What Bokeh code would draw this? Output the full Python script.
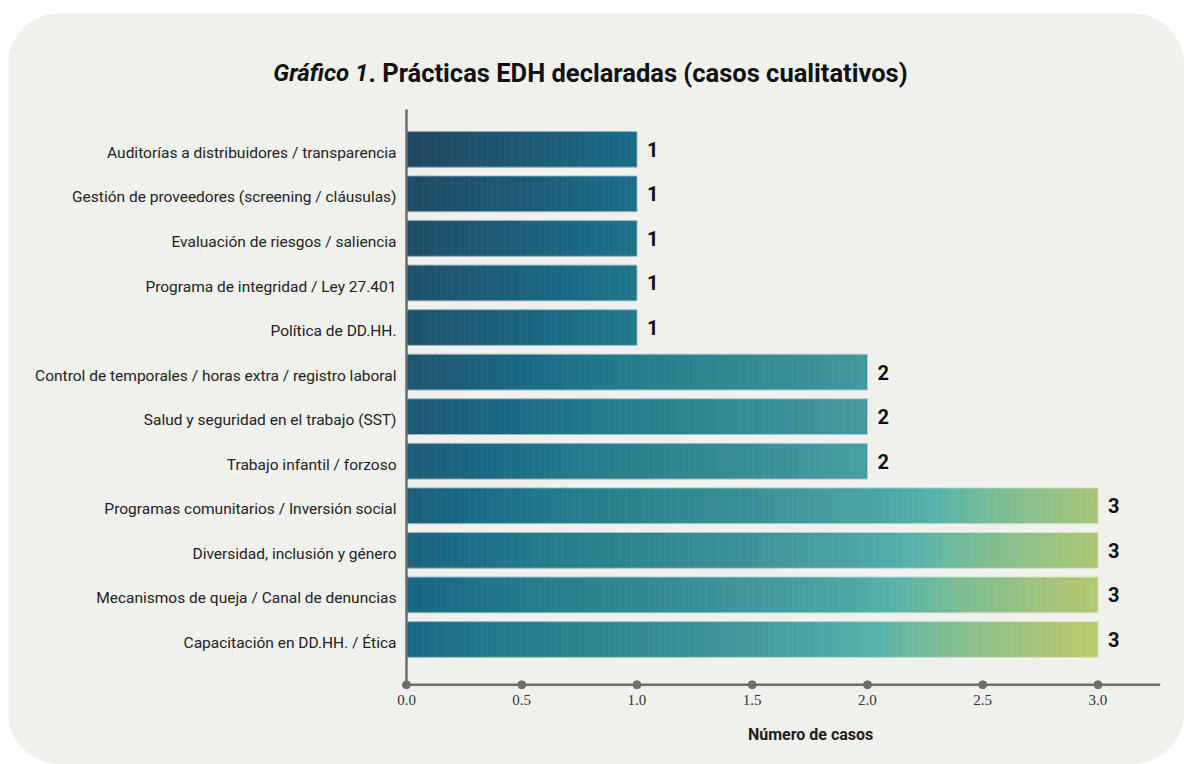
from bokeh.plotting import figure
from bokeh.models import Range1d
from bokeh.embed import file_html
from bokeh.resources import INLINE
from bokeh.core.properties import value

# ---------------- data ----------------
categories = [
    "Auditorías a distribuidores / transparencia",
    "Gestión de proveedores (screening / cláusulas)",
    "Evaluación de riesgos / saliencia",
    "Programa de integridad / Ley 27.401",
    "Política de DD.HH.",
    "Control de temporales / horas extra / registro laboral",
    "Salud y seguridad en el trabajo (SST)",
    "Trabajo infantil / forzoso",
    "Programas comunitarios / Inversión social",
    "Diversidad, inclusión y género",
    "Mecanismos de queja / Canal de denuncias",
    "Capacitación en DD.HH. / Ética",
]
casos = [1, 1, 1, 1, 1, 2, 2, 2, 3, 3, 3, 3]
x_ticks = [0.0, 0.5, 1.0, 1.5, 2.0, 2.5, 3.0]
x_tick_labels = ["0.0", "0.5", "1.0", "1.5", "2.0", "2.5", "3.0"]
title_italic = "Gráfico 1"
title_rest = ". Prácticas EDH declaradas (casos cualitativos)"
x_title = "Número de casos"

# ---------------- style ----------------
BG = "#f0f0ec"
AXIS = "#6e6e6e"
stops = [
    (0.00, "#1f4560"),
    (0.13, "#1e5872"),
    (0.25, "#1a6a86"),
    (0.34, "#237a8c"),
    (0.45, "#2e8690"),
    (0.55, "#3a9098"),
    (0.61, "#43999c"),
    (0.68, "#4aa3a3"),
    (0.75, "#56b2aa"),
    (0.82, "#7cbd94"),
    (0.92, "#a3c47a"),
    (1.00, "#bccc68"),
]


def hex2rgb(h):
    h = h.lstrip("#")
    return tuple(int(h[i:i + 2], 16) for i in (0, 2, 4))


def grad(t):
    t = max(0.0, min(1.0, t))
    for (t0, c0), (t1, c1) in zip(stops[:-1], stops[1:]):
        if t <= t1:
            f = (t - t0) / (t1 - t0) if t1 > t0 else 0
            a, b = hex2rgb(c0), hex2rgb(c1)
            r = [round(a[k] + (b[k] - a[k]) * f) for k in range(3)]
            return "#%02x%02x%02x" % tuple(r)
    return stops[-1][1]


n = len(categories)
rows = list(range(n))

W, H = 1176, 751
p = figure(
    width=W, height=H,
    x_range=Range1d(-1.7267, 3.3753),
    y_range=Range1d(13.806, -3.0476),
    output_backend="svg", toolbar_location=None,
    x_axis_location=None, y_axis_location=None,
    min_border=0,
)
p.styles = {"margin-left": "8px", "margin-top": "13px",
            "border-radius": "52px", "overflow": "hidden"}
p.background_fill_color = BG
p.border_fill_color = BG
p.outline_line_color = None
p.grid.visible = False

# gradient bars, built as thin slices of each bar
step = 0.025
L, R, T, B, C = [], [], [], [], []
for i, v in enumerate(casos):
    k = int(round(v / step))
    for j in range(k):
        x0 = j * step
        x1 = min(v, (j + 1) * step)
        xc = (x0 + x1) / 2
        t = 0.2497 * xc + 0.009 + 0.02125 * i
        L.append(x0); R.append(x1); T.append(i - 0.4); B.append(i + 0.4)
        C.append(grad(t))
p.quad(left=L, right=R, top=T, bottom=B, fill_color=C, line_color=C, line_width=0.6)
p.hbar(y=rows, left=0, right=casos, height=0.8, fill_alpha=0,
       line_color="white", line_alpha=0.45, line_width=1)

# value labels
p.text(x=casos, y=rows, text=[str(v) for v in casos], x_offset=10,
       text_baseline="middle", text_align="left",
       text_font=value("Roboto"), text_font_style="bold",
       text_font_size="20px", text_color="#111111")

# axis lines and tick dots
x_axis_y = n - 1 + 1.017
y_axis_top = -0.893
p.segment(x0=[0], y0=[y_axis_top], x1=[0], y1=[x_axis_y], line_color=AXIS, line_width=2.5)
p.segment(x0=[0], y0=[x_axis_y], x1=[3.27], y1=[x_axis_y], line_color=AXIS, line_width=2.5)
p.scatter(x=x_ticks, y=[x_axis_y] * len(x_ticks), size=8, color=AXIS)

# category labels (y axis)
p.text(x=[0] * n, y=[r + 0.08 for r in rows], text=categories, x_offset=-10,
       text_align="right", text_baseline="middle",
       text_font=value("Roboto"), text_font_size="15.5px", text_color="#232323")

# x tick labels
p.text(x=x_ticks, y=[x_axis_y] * len(x_ticks), text=x_tick_labels, y_offset=15,
       text_align="center", text_baseline="middle",
       text_font=value("Liberation Serif"), text_font_size="15px", text_color="#333333")

# x axis title
p.text(x=[1.753], y=[13.13], text=[x_title], text_align="center", text_baseline="middle",
       text_font=value("Roboto"), text_font_style="bold",
       text_font_size="16px", text_color="#1e1e1e")

# chart title (two parts: italic + regular bold)
p.text(x=[-0.165], y=[-1.72], text=[title_italic], text_align="right", text_baseline="middle",
       text_font=value("Roboto"), text_font_style="bold italic",
       text_font_size="24px", text_color="#111111")
p.text(x=[-0.165], y=[-1.72], text=[title_rest], text_align="left", text_baseline="middle",
       text_font=value("Roboto"), text_font_style="bold",
       text_font_size="25.5px", text_color="#111111")

open("out.html", "w").write(file_html(p, INLINE))
